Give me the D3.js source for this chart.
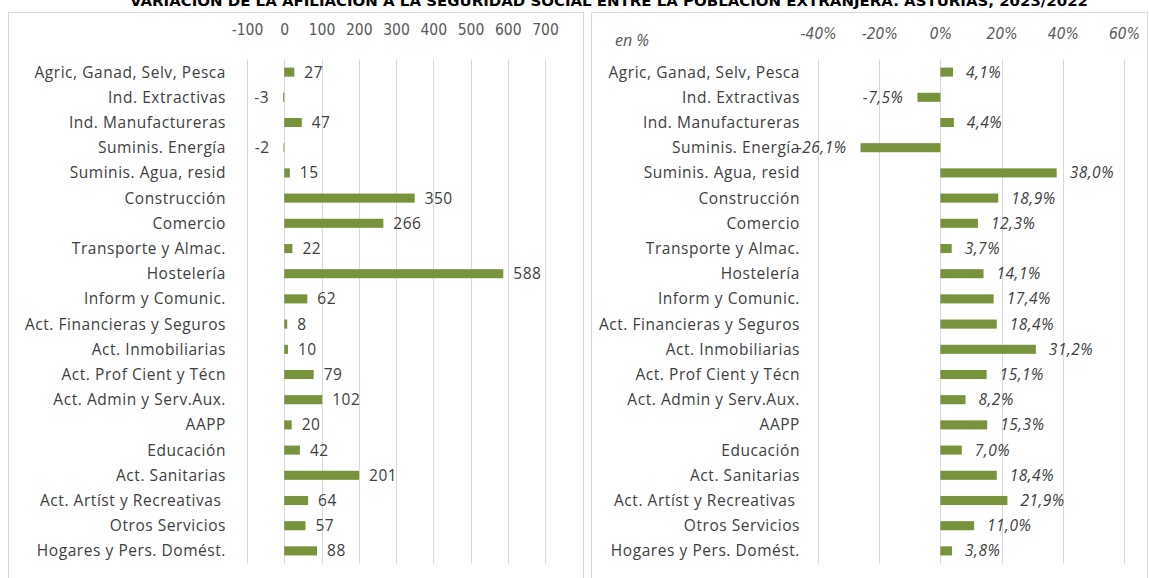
<!DOCTYPE html>
<html>
<head>
<meta charset="utf-8">
<script src="https://cdn.jsdelivr.net/npm/d3@7"></script>
<style>
  body { margin: 0; background: #fff; }
  svg text { font-family: "Open Sans", Lato, sans-serif; }
</style>
</head>
<body>
<div id="chart"></div>
<script>
// data
const titleText = 'VARIACIÓN DE LA AFILIACIÓN A LA SEGURIDAD SOCIAL ENTRE LA POBLACIÓN EXTRANJERA. ASTURIAS, 2023/2022'
const sectors = [
    'Agric, Ganad, Selv, Pesca',
    'Ind. Extractivas',
    'Ind. Manufactureras',
    'Suminis. Energía',
    'Suminis. Agua, resid',
    'Construcción',
    'Comercio',
    'Transporte y Almac.',
    'Hostelería',
    'Inform y Comunic.',
    'Act. Financieras y Seguros',
    'Act. Inmobiliarias',
    'Act. Prof Cient y Técn',
    'Act. Admin y Serv.Aux.',
    'AAPP',
    'Educación',
    'Act. Sanitarias',
    'Act. Artíst y Recreativas ',
    'Otros Servicios',
    'Hogares y Pers. Domést.'
]
const absChange = [27, -3, 47, -2, 15, 350, 266, 22, 588, 62, 8, 10, 79, 102, 20, 42, 201, 64, 57, 88]
const pctChange = [4.1, -7.5, 4.4, -26.1, 38.0, 18.9, 12.3, 3.7, 14.1, 17.4, 18.4, 31.2, 15.1, 8.2, 15.3, 7.0, 18.4, 21.9, 11.0, 3.8]
const absTicks = [-100, 0, 100, 200, 300, 400, 500, 600, 700]
const pctTicks = [-40, -20, 0, 20, 40, 60]

const width = 1149, height = 578
const barColor = '#77933c'
const textColor = '#404040'
const gridColor = '#d9d9d9'

// plain hyphen as minus sign, comma decimals
const esLocale = d3.formatLocale({ decimal: ',', thousands: '.', grouping: [3], currency: ['', ' €'], minus: '-' })
const intFmt = esLocale.format('d')
const pctFmt = d => esLocale.format('.1f')(d) + '%'

const svg = d3.select('#chart').append('svg')
    .attr('width', width)
    .attr('height', height)

// panel frames
svg.append('rect').attr('x', 8.5).attr('y', 12.5).attr('width', 575).attr('height', 600)
    .attr('fill', 'none').attr('stroke', gridColor)
svg.append('rect').attr('x', 591.5).attr('y', 12.5).attr('width', 556).attr('height', 600)
    .attr('fill', 'none').attr('stroke', gridColor)

svg.append('text')
    .attr('x', 609).attr('y', 6)
    .attr('text-anchor', 'middle')
    .attr('textLength', 958)
    .attr('lengthAdjust', 'spacingAndGlyphs')
    .style('font-family', '"DejaVu Sans Condensed", "DejaVu Sans", sans-serif')
    .style('font-weight', 'bold')
    .style('font-size', '14px')
    .attr('fill', '#000')
    .text(titleText)

const y = d3.scaleBand()
    .domain(sectors)
    .range([59.5, 563.5])

const barH = y.bandwidth() * 0.36

const drawPanel = (opts) => {
    const x = d3.scaleLinear().domain(opts.domain).range(opts.range)
    const g = svg.append('g')

    // gridlines
    g.selectAll('.grid')
        .data(opts.ticks)
        .enter().append('line')
        .attr('x1', d => Math.round(x(d)) + 0.5)
        .attr('x2', d => Math.round(x(d)) + 0.5)
        .attr('y1', y.range()[0])
        .attr('y2', y.range()[1])
        .attr('stroke', gridColor)

    // top axis labels
    const axis = d3.axisTop(x)
        .tickValues(opts.ticks)
        .tickSize(0)
        .tickFormat(opts.tickFormat)
    const ax = g.append('g')
        .attr('transform', `translate(0,${opts.axisY})`)
        .call(axis)
    ax.select('.domain').remove()
    ax.selectAll('text')
        .attr('dy', 0)
        .attr('fill', '#595959')
        .style('font-size', '15.5px')
        .style('font-family', '"DejaVu Sans Condensed", Lato, sans-serif')
        .style('font-weight', '300')
        .style('font-style', opts.italic ? 'italic' : 'normal')

    // category labels
    g.selectAll('.cat')
        .data(sectors)
        .enter().append('text')
        .attr('x', opts.labelX)
        .attr('y', d => y(d) + y.bandwidth() / 2)
        .attr('dy', '0.35em')
        .attr('text-anchor', 'end')
        .attr('fill', textColor)
        .style('font-size', '15.5px')
        .style('letter-spacing', '0.55px')
        .style('white-space', 'pre')
        .text(d => d)

    // bars
    g.selectAll('.bar')
        .data(opts.values)
        .enter().append('rect')
        .attr('x', d => x(Math.min(0, d)))
        .attr('y', (d, i) => y(sectors[i]) + (y.bandwidth() - barH) / 2)
        .attr('width', d => Math.abs(x(d) - x(0)))
        .attr('height', barH)
        .attr('fill', barColor)

    // value labels
    g.selectAll('.val')
        .data(opts.values)
        .enter().append('text')
        .attr('x', d => d < 0 ? x(d) - 14 : x(d) + opts.gap)
        .attr('y', (d, i) => y(sectors[i]) + y.bandwidth() / 2)
        .attr('dy', '0.35em')
        .attr('text-anchor', d => d < 0 ? 'end' : 'start')
        .attr('fill', textColor)
        .style('font-size', '15.5px')
        .style('letter-spacing', '0.5px')
        .style('font-style', opts.italic ? 'italic' : 'normal')
        .text(opts.valueFormat)
}

drawPanel({
    domain: [-100, 700],
    range: [247, 545],
    ticks: absTicks,
    tickFormat: intFmt,
    axisY: 38,
    labelX: 226,
    values: absChange,
    valueFormat: intFmt,
    gap: 10,
    italic: false
})

drawPanel({
    domain: [-40, 60],
    range: [818, 1124],
    ticks: pctTicks,
    tickFormat: d => intFmt(d) + '%',
    axisY: 42,
    labelX: 800,
    values: pctChange,
    valueFormat: pctFmt,
    gap: 13,
    italic: true
})

svg.append('text')
    .attr('x', 615).attr('y', 46)
    .attr('fill', '#595959')
    .style('font-size', '16px')
    .style('font-style', 'italic')
    .text('en %')
</script>
</body>
</html>
